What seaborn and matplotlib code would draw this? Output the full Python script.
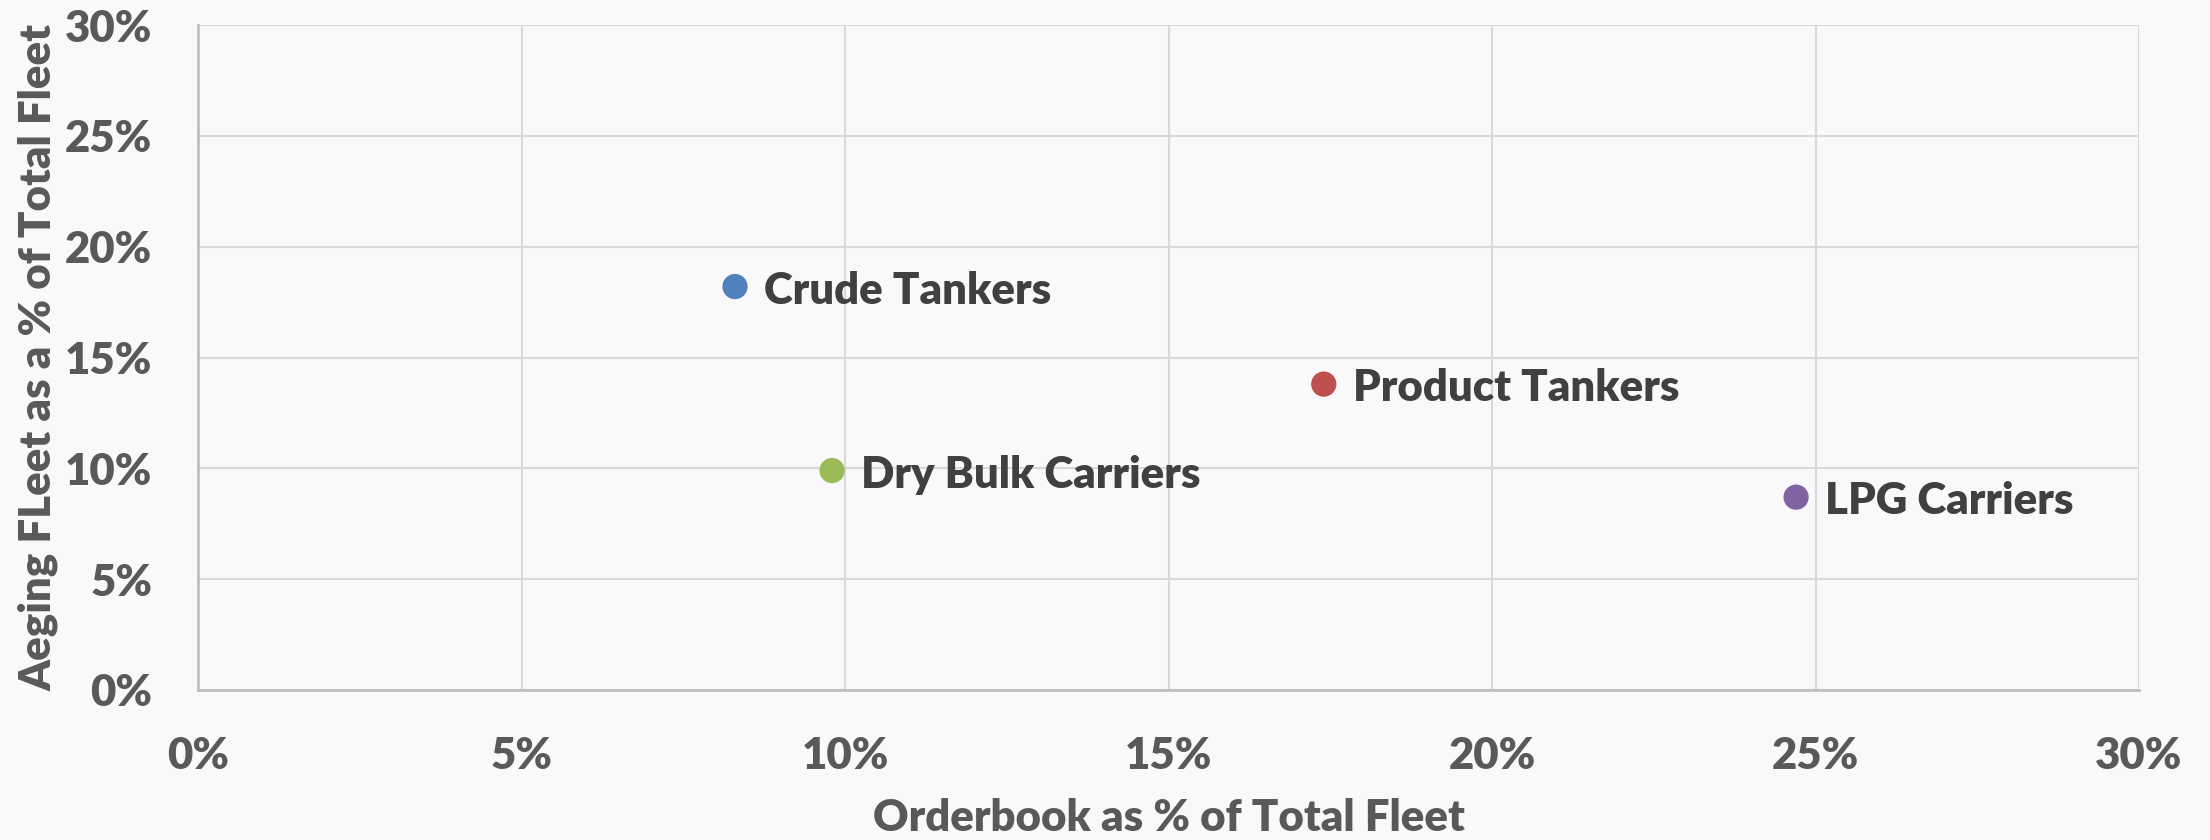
import matplotlib
matplotlib.use("Agg")
import matplotlib.pyplot as plt
import seaborn as sns
import pandas as pd
from matplotlib.ticker import FuncFormatter

# Data
categories = ["Crude Tankers", "Product Tankers", "Dry Bulk Carriers", "LPG Carriers"]
orderbook_pct = [8.3, 17.4, 9.8, 24.7]
aging_pct = [18.2, 13.8, 9.9, 8.7]
colors = ["#4F81BD", "#C0504D", "#9BBB59", "#8064A2"]
tick_values = [0, 5, 10, 15, 20, 25, 30]

df = pd.DataFrame({"category": categories, "orderbook": orderbook_pct, "aging": aging_pct})

sns.set_theme(style="white")
plt.rcParams["font.family"] = ["Lato", "DejaVu Sans"]

W = "heavy"
FS = 31.5
bg = "#F9F9FB"
fig = plt.figure(figsize=(22.1, 8.4), dpi=100, facecolor=bg)
ax = fig.add_axes([198 / 2210, 1 - 690 / 840, (2139 - 198) / 2210, (690 - 25) / 840])
ax.set_facecolor(bg)

sns.scatterplot(data=df, x="orderbook", y="aging", hue="category",
                palette=dict(zip(categories, colors)), s=330, edgecolor="none",
                legend=False, ax=ax, zorder=3)

for cat, xv, yv in zip(categories, orderbook_pct, aging_pct):
    ax.annotate(cat, (xv, yv), xytext=(21, -3), textcoords="offset points",
                ha="left", va="center", fontsize=FS, fontweight=W, color="#404040", zorder=4)

ax.set_xlim(0, 30)
ax.set_ylim(0, 30)
ax.set_xticks(tick_values)
ax.set_yticks(tick_values)
fmt = FuncFormatter(lambda v, p: f"{v:.0f}%")
ax.xaxis.set_major_formatter(fmt)
ax.yaxis.set_major_formatter(fmt)
ax.tick_params(axis="both", length=0, labelsize=FS, labelcolor="#595959", pad=33)
for lab in ax.get_xticklabels() + ax.get_yticklabels():
    lab.set_fontweight(W)

ax.grid(True, color="#D9D9D9", linewidth=1.5, zorder=0)
ax.set_axisbelow(True)
for side in ["top", "right"]:
    ax.spines[side].set_visible(False)
for side in ["left", "bottom"]:
    ax.spines[side].set_color("#BFBFBF")
    ax.spines[side].set_linewidth(2)

ax.set_xlabel("Orderbook as % of Total Fleet", fontsize=FS, fontweight=W, color="#595959")
ax.set_ylabel("Aeging FLeet as a % of Total Fleet", fontsize=FS, fontweight=W, color="#595959")
ax.xaxis.set_label_coords(0.5, (690 - 818) / 665)
ax.yaxis.set_label_coords((38 - 198) / 1941, 0.5)
ax.xaxis.label.set_va("center")
ax.yaxis.label.set_va("center")

fig.savefig("out.png", dpi=100, facecolor=bg)
